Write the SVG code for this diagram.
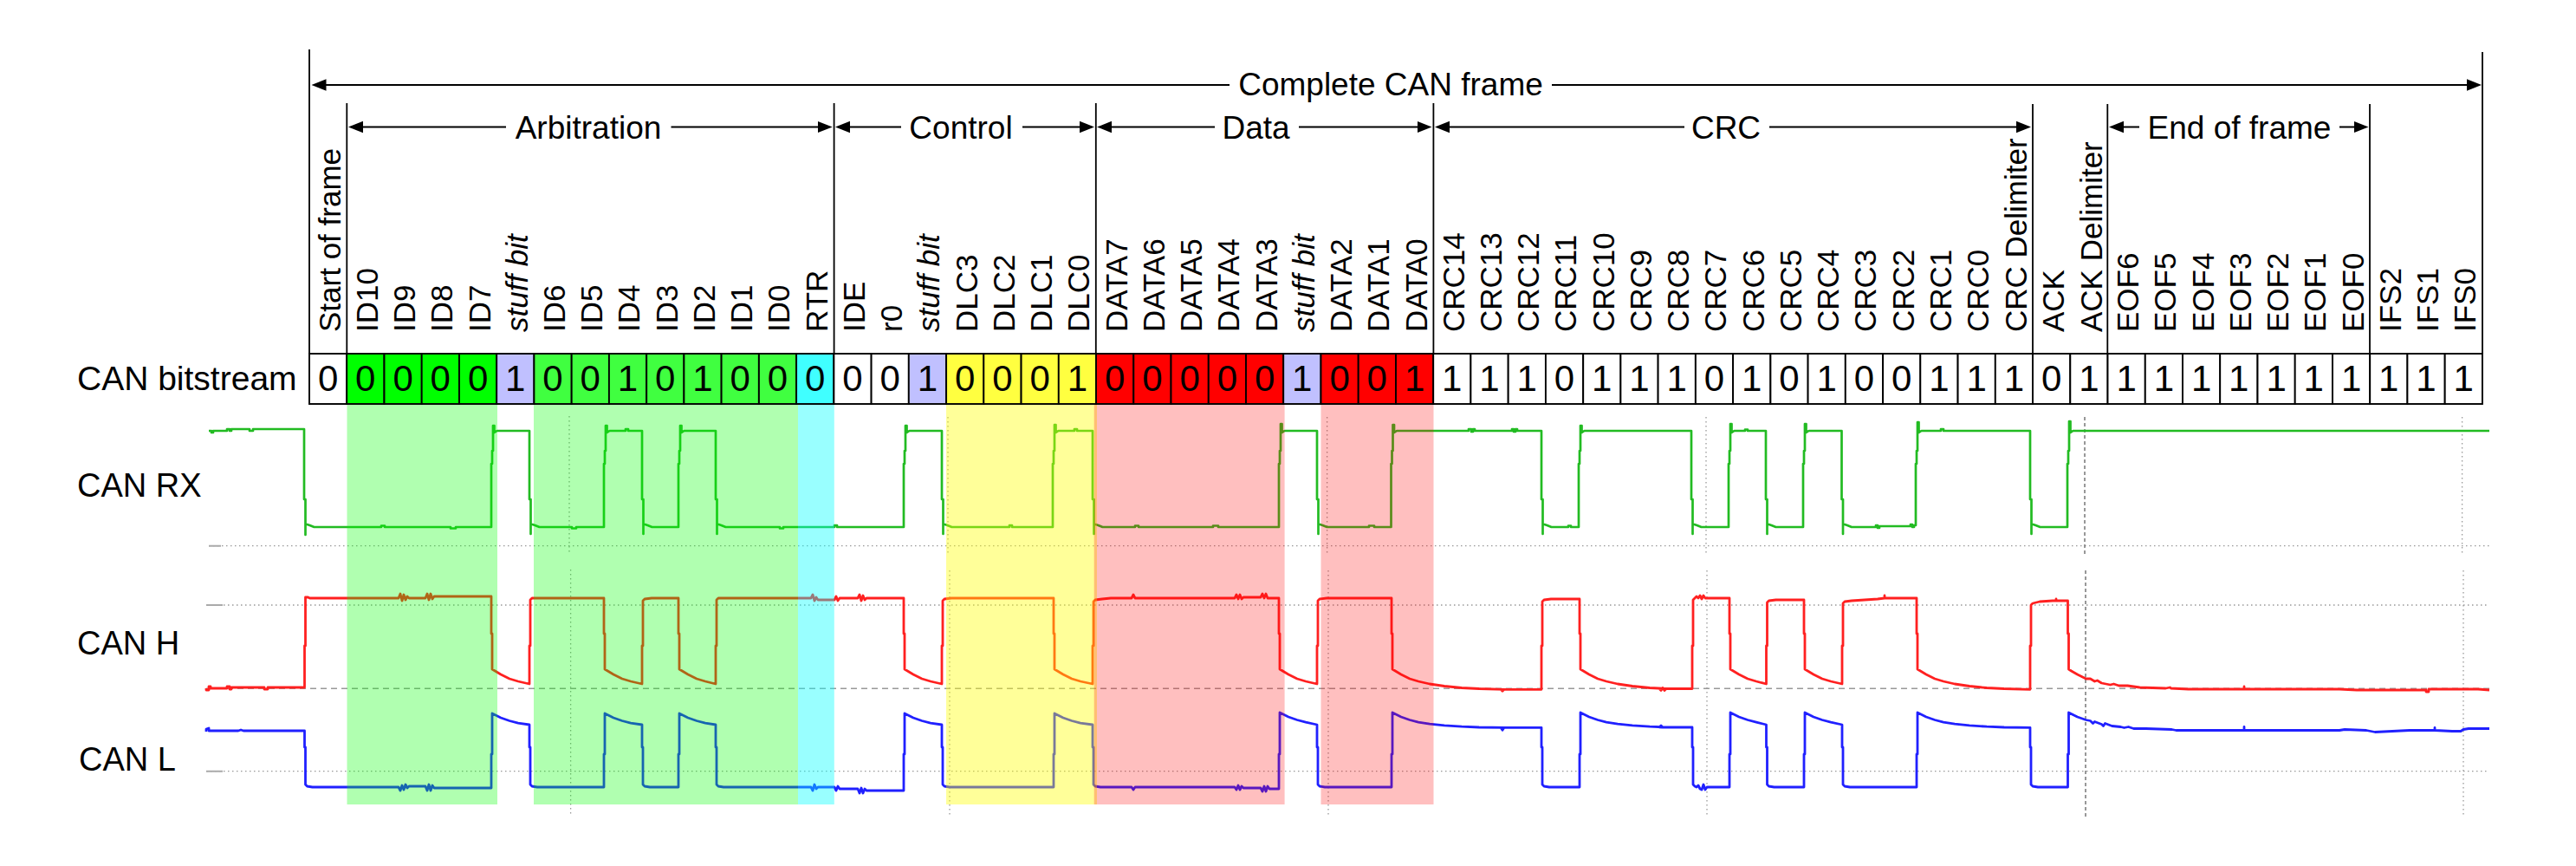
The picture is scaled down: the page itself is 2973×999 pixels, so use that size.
<svg xmlns="http://www.w3.org/2000/svg" width="2973" height="999" viewBox="0 0 2973 999">
<style>
text{font-family:"Liberation Sans",Arial,sans-serif;fill:#000}
.t{font-size:37px;text-anchor:middle}
.s{font-size:38px}
.d{font-size:42px;text-anchor:middle}
.v{font-size:35px}
.i{font-style:italic}
.c{stroke:#000;stroke-width:1.9}
.w{fill:#fff}.g1{fill:#0f0}.g2{fill:#40ff40}.sb{fill:#c0c0ff}.cy{fill:#40ffff}.ye{fill:#ffff40}.re{fill:#f00}
.a{stroke:#000;stroke-width:2;fill:none}
.f{stroke:#000;stroke-width:1.8;fill:none}
.gd{stroke:#999;stroke-width:1.3;stroke-dasharray:1.5 3.5;fill:none}
.gk{stroke:#777;stroke-width:1.5;stroke-dasharray:4 3;fill:none}
.gh{stroke:#999;stroke-width:1.5;stroke-dasharray:7 5;fill:none}
.tk{stroke:#aaa;stroke-width:2;fill:none}
.tr{fill:none;stroke-linejoin:round}
</style>
<defs>
<marker id="ah" markerUnits="userSpaceOnUse" markerWidth="18" markerHeight="15" refX="9" refY="7.5" orient="auto-start-reverse"><path d="M0 .8L17 7.5L0 14.2z" fill="#000"/></marker>
</defs>

<g id="grid">
<path class="gd" d="M241 629.7H2873M238 698H2873M238 889.7H2873"/>
<path class="gh" d="M238 794.3H2873"/>
<path class="tk" d="M241 629.7H255M238 698H257M238 889.7H257"/>
<path class="gd" d="M657 480V640M658.6 657V942M1094 481V640M1096 658V942M1531.6 481V640M1533 658V942M1969 481V640M1970 658V942M2841.6 481V640M2843 658V942"/>
<path class="gk" d="M2406 481V640M2407 658V942"/>
</g>

<g id="traces">
<path id="trace-rx" class="tr" stroke="#22bb22" stroke-width="2.7" d="M241 497h3v2h2v-2H262v-2h3v2h2v-2H288v2h4v-2H351V576h1.5V617V605h2l3 1l5 2H440v-1.5h4v1.5H520v1.5h6v-1.5H567V535h1V520h1V491h1.5V499l3-2H611V576h1.5V616V605h2l3 1l5 2H660v1.5h5v-1.5H697V535h1V520h1V491h1.5V499l3-2H722v-2h3v2H741V576h1.5V616V605h2l3 1l5 2H783V535h1V520h1V491h1.5V499l3-2H826V576h1.5V616V605h2l3 1l5 2H900v1.5h4v-1.5H963v-2h3v2H1043V535h1V520h1V491h1.5V499l3-2H1087V576h1.5V616V605h2l3 1l5 2H1165v-2h3v2H1215V535h1V520h1V490h1.5V499l3-2H1240v-2h3v2H1261V576h1.5V616V605h2l3 1l5 2H1310v-1.5h4v1.5H1400v-1.5h6v1.5H1476V535h1V520h1V489h1.5V499l3-2H1520V576h1.5V616V605h2l3 1l5 2H1580v-1.5h6v1.5H1605.5V535h1V520h1V490h1.5V499l3-2H1695v-2h3v3h2v-3h2v2H1745v-2h2v3h2v-3h2v2H1779V576h1.5V616V605h2l3 1l5 2H1810v-1.5h3v1.5H1822V535h1V520h1V491h1.5V499l3-2H1952V576h1.5V616V605h2l3 1l5 2H1995V535h1V520h1V489h1.5V499l3-2H2014v-1.5h3v1.5H2038V576h1.5V616V605h2l3 1l5 2H2081V535h1V520h1V489h1.5V499l3-2H2125.5V576h1.5V616V605h2l3 1l5 2H2165v-2h2v3h2v-2H2205v-2h2v3h2v-2H2211V535h1V520h1V487h1.5V499l3-2H2240v-2h3v2H2343V576h1.5V616V605h2l3 1l5 2H2386V535h1V520h1V486h1.5V499l3-2H2873"/>
<path id="trace-h" class="tr" stroke="#ff2020" stroke-width="2.8" d="M238 794v2h3v-4h2v2H262v-2h3v3h2v-2H305v2h4v-2H351.5V745h1V689h3l2 1H460l2-5l2 8l2-7l2 6l2-4l2 2H491l2-5l2 7l2-7l2 6l2-3H567V731h1V772l10 6l10 5l10 3L611 789V745h1V692l2-2H697V731h1V772l10 6l10 5l10 3L741 789V745h1V693l2-2l8-1H783V731h1V772l10 6l10 5l10 3L826 789V745h1V692l2-2H936l2-4l2 7l2-4l2 3H963l2-4l2 5l2-3h2H990l2-4l2 7l2-6l2 5l2-2H1043V731h1V772l10 6l10 5l10 3L1087 789V745h1V693l2-2l8-1H1216V731h1V772l10 6l10 5l10 3L1261 789V745h1V694l2-2l8-1l10-1H1306l2-4l2 4H1425l2-4l2 5l2-5l2 5l2-2H1455l2-4l2 5l2-5l2 5h2H1476V731h1V772l10 6l10 5l10 3L1520 789V745h1V693l2-2l8-1H1606V731h1V772l10 6l10 5l10 3l13 3l17 2.5l20 2l20 1l30 .8H1732l2 2l2-2H1779V745h1V694l2-2l8-1H1823V731h1V772l10 6l10 5l10 3l13 3l17 2.5l20 2l20 1H1915l2 2l2-3l2 3l2-2H1953V745h1V692l2-2l2-2l2 2l2-3l2 4l2-4l2 3H1996V731h1V772l10 6l10 5l10 3L2038.5 789V745h1V695l2-2l8-1H2082V731h1V772l10 6l10 5l10 3L2126 789V745h1V696l2-2l8-1l30-2l8-1v-3v3H2212V731h1V772l10 6l10 5l10 3l13 3l17 2.5l20 2l20 1l30 .8H2343V745h1V698l2-2l8-2l15-1h4v-2v2H2386.5V731h1V772l3 2l7 4l10 5l5 0l5 3l3-1l5 3l10 2l4-1l6 2l10 0l14 2l30 1l5-1l1 1l20 1H2590v-3v3H2700l20 1H2800v2h3v-3H2860l13 1"/>
<path id="trace-l" class="tr" stroke="#2020ff" stroke-width="2.8" d="M238 844v-3l3-1v3H275l3-1l3 1H351.5V862h1V905l2 2l6 1H460l2 4l2-6l2 5l2-6l2 4l2-2H491l2 5l2-7l2 7l2-6l2 3H567V870h1V823l10 5l10 3.5l10 2.6L611 836V862h1V905l2 2l6 1H697V870h1V823l10 5l10 3.5l10 2.6L741 836V862h1V905l2 2l6 1H783V870h1V823l10 5l10 3.5l10 2.6L826 836V862h1V905l2 2l6 1H936l2 4l2-7l2 5l2-2H963l2 4l2-5l2 3H990l2 5l2-6l2 6l2-5l2 2H1043V870h1V823l10 5l10 3.5l10 2.6L1087 836V862h1V905l2 2l6 1H1216V870h1V823l10 5l10 3.5l10 2.6L1261 836V862h1V905l2 2l6 1H1306l2 3l2-3H1425l2 3l2-5l2 5l2-4l2 2H1455l2 4l2-6l2 6l2-6l2 3H1476V870h1V822l10 5l10 3.5l10 2.6L1520 836V862h1V905l2 2l6 1H1606V870h1V822l10 5l10 3.5l10 2.6l13 2l17 1.8l20 1.3l20 .8l30 .3H1732l2 3l2-3H1779V862h1V905l2 2l6 1H1823V870h1V822l10 5l10 3.5l10 2.6l13 2l17 1.8l20 1.3l20 .8H1915l2-2l2 2h4H1953V862h1V905l2 2l2 1l2-2l2 4l2 1l2-6l2 6l2-3H1996V870h1V822l10 5l10 3.5l10 2.6L2038.5 836V862h1V905l2 2l6 1H2082V870h1V822l10 5l10 3.5l10 2.6L2126 836V862h1V905l2 2l6 1H2212V870h1V822l10 5l10 3.5l10 2.6l13 2l17 1.8l20 1.3l20 .8l30 .3H2343V862h1V905l2 2l6 1H2386.5V870h1V822l10 5l10 3.5l5 1l3 3l2-2l8 3l2 2l2-3l8 3l10 1l4 1l5-1l6 2l14 0l30 1l5 1H2590v-4v4H2700l6-1l25 1l10 2l40-2H2810v-3v3l20 1H2840l3-2l6-1H2873"/>
</g>

<g id="bands">
<rect x="400.5" y="466" width="173.5" height="462" fill="#0f0" opacity=".31"/>
<rect x="616" y="466" width="305" height="462" fill="#0f0" opacity=".31"/>
<rect x="921" y="466" width="41.8" height="462" fill="#0ff" opacity=".4"/>
<rect x="1092" y="466" width="174" height="462" fill="#ff0" opacity=".4"/>
<rect x="1262.7" y="466" width="219.9" height="462" fill="#f00" opacity=".25"/>
<rect x="1524.5" y="466" width="130" height="462" fill="#f00" opacity=".25"/>
</g>

<g id="connectors">
<path class="a" d="M367.5 98H1419" marker-start="url(#ah)"/>
<path class="a" d="M1791 98H2856" marker-end="url(#ah)"/>
<path class="a" d="M410 146.5H584" marker-start="url(#ah)"/>
<path class="a" d="M774.5 146.5H952.7" marker-end="url(#ah)"/>
<path class="a" d="M972 146.5H1040" marker-start="url(#ah)"/>
<path class="a" d="M1180 146.5H1255" marker-end="url(#ah)"/>
<path class="a" d="M1274 146.5H1402" marker-start="url(#ah)"/>
<path class="a" d="M1499 146.5H1644.5" marker-end="url(#ah)"/>
<path class="a" d="M1664 146.5H1944" marker-start="url(#ah)"/>
<path class="a" d="M2042 146.5H2336" marker-end="url(#ah)"/>
<path class="a" d="M2442 146.5H2469" marker-start="url(#ah)"/>
<path class="a" d="M2700 146.5H2725.5" marker-end="url(#ah)"/>
<path class="f" d="M357 57V408M400.3 119V408M962.6 119V408M1264.8 119V408M1654.4 119V408M2346 120V408M2432.3 120V408M2735 120V408M2865 60V408"/>
</g>

<g id="section-labels">
<text class="t" x="1605" y="110">Complete CAN frame</text>
<text class="t" x="679" y="160">Arbitration</text>
<text class="t" x="1109" y="160">Control</text>
<text class="t" x="1449.5" y="160">Data</text>
<text class="t" x="1992" y="160">CRC</text>
<text class="t" x="2584.5" y="160">End of frame</text>
</g>

<g id="row-labels">
<text class="s" style="font-size:39px" x="89" y="450">CAN bitstream</text>
<text class="s" x="89" y="573">CAN RX</text>
<text class="s" x="89" y="755">CAN H</text>
<text class="s" x="91" y="889">CAN L</text>
</g>

<g id="bit-sof"><rect class="c w" x="357" y="408" width="43.24" height="58"/><text class="d" x="378.6" y="451">0</text><text class="v" transform="translate(392.5 383) rotate(-90)">Start of frame</text></g>
<g id="bit-id10"><rect class="c g1" x="400.2" y="408" width="43.24" height="58"/><text class="d" x="421.8" y="451">0</text><text class="v" transform="translate(435.7 383) rotate(-90)">ID10</text></g>
<g id="bit-id9"><rect class="c g1" x="443.5" y="408" width="43.24" height="58"/><text class="d" x="465.1" y="451">0</text><text class="v" transform="translate(479 383) rotate(-90)">ID9</text></g>
<g id="bit-id8"><rect class="c g1" x="486.7" y="408" width="43.24" height="58"/><text class="d" x="508.3" y="451">0</text><text class="v" transform="translate(522.2 383) rotate(-90)">ID8</text></g>
<g id="bit-id7"><rect class="c g1" x="530" y="408" width="43.24" height="58"/><text class="d" x="551.6" y="451">0</text><text class="v" transform="translate(565.5 383) rotate(-90)">ID7</text></g>
<g id="bit-stuff1"><rect class="c sb" x="573.2" y="408" width="43.24" height="58"/><text class="d" x="594.8" y="451">1</text><text class="v i" transform="translate(608.7 383) rotate(-90)">stuff bit</text></g>
<g id="bit-id6"><rect class="c g2" x="616.4" y="408" width="43.24" height="58"/><text class="d" x="638" y="451">0</text><text class="v" transform="translate(651.9 383) rotate(-90)">ID6</text></g>
<g id="bit-id5"><rect class="c g2" x="659.7" y="408" width="43.24" height="58"/><text class="d" x="681.3" y="451">0</text><text class="v" transform="translate(695.2 383) rotate(-90)">ID5</text></g>
<g id="bit-id4"><rect class="c g2" x="702.9" y="408" width="43.24" height="58"/><text class="d" x="724.5" y="451">1</text><text class="v" transform="translate(738.4 383) rotate(-90)">ID4</text></g>
<g id="bit-id3"><rect class="c g2" x="746.2" y="408" width="43.24" height="58"/><text class="d" x="767.8" y="451">0</text><text class="v" transform="translate(781.7 383) rotate(-90)">ID3</text></g>
<g id="bit-id2"><rect class="c g2" x="789.4" y="408" width="43.24" height="58"/><text class="d" x="811" y="451">1</text><text class="v" transform="translate(824.9 383) rotate(-90)">ID2</text></g>
<g id="bit-id1"><rect class="c g2" x="832.6" y="408" width="43.24" height="58"/><text class="d" x="854.2" y="451">0</text><text class="v" transform="translate(868.1 383) rotate(-90)">ID1</text></g>
<g id="bit-id0"><rect class="c g2" x="875.9" y="408" width="43.24" height="58"/><text class="d" x="897.5" y="451">0</text><text class="v" transform="translate(911.4 383) rotate(-90)">ID0</text></g>
<g id="bit-rtr"><rect class="c cy" x="919.1" y="408" width="43.24" height="58"/><text class="d" x="940.7" y="451">0</text><text class="v" transform="translate(954.6 383) rotate(-90)">RTR</text></g>
<g id="bit-ide"><rect class="c w" x="962.4" y="408" width="43.24" height="58"/><text class="d" x="984" y="451">0</text><text class="v" transform="translate(997.9 383) rotate(-90)">IDE</text></g>
<g id="bit-r0"><rect class="c w" x="1005.6" y="408" width="43.24" height="58"/><text class="d" x="1027.2" y="451">0</text><text class="v" transform="translate(1041.1 383) rotate(-90)">r0</text></g>
<g id="bit-stuff2"><rect class="c sb" x="1048.8" y="408" width="43.24" height="58"/><text class="d" x="1070.4" y="451">1</text><text class="v i" transform="translate(1084.3 383) rotate(-90)">stuff bit</text></g>
<g id="bit-dlc3"><rect class="c ye" x="1092.1" y="408" width="43.24" height="58"/><text class="d" x="1113.7" y="451">0</text><text class="v" transform="translate(1127.6 383) rotate(-90)">DLC3</text></g>
<g id="bit-dlc2"><rect class="c ye" x="1135.3" y="408" width="43.24" height="58"/><text class="d" x="1156.9" y="451">0</text><text class="v" transform="translate(1170.8 383) rotate(-90)">DLC2</text></g>
<g id="bit-dlc1"><rect class="c ye" x="1178.6" y="408" width="43.24" height="58"/><text class="d" x="1200.2" y="451">0</text><text class="v" transform="translate(1214.1 383) rotate(-90)">DLC1</text></g>
<g id="bit-dlc0"><rect class="c ye" x="1221.8" y="408" width="43.24" height="58"/><text class="d" x="1243.4" y="451">1</text><text class="v" transform="translate(1257.3 383) rotate(-90)">DLC0</text></g>
<g id="bit-data7"><rect class="c re" x="1265" y="408" width="43.24" height="58"/><text class="d" x="1286.6" y="451">0</text><text class="v" transform="translate(1300.5 383) rotate(-90)">DATA7</text></g>
<g id="bit-data6"><rect class="c re" x="1308.3" y="408" width="43.24" height="58"/><text class="d" x="1329.9" y="451">0</text><text class="v" transform="translate(1343.8 383) rotate(-90)">DATA6</text></g>
<g id="bit-data5"><rect class="c re" x="1351.5" y="408" width="43.24" height="58"/><text class="d" x="1373.1" y="451">0</text><text class="v" transform="translate(1387 383) rotate(-90)">DATA5</text></g>
<g id="bit-data4"><rect class="c re" x="1394.8" y="408" width="43.24" height="58"/><text class="d" x="1416.4" y="451">0</text><text class="v" transform="translate(1430.3 383) rotate(-90)">DATA4</text></g>
<g id="bit-data3"><rect class="c re" x="1438" y="408" width="43.24" height="58"/><text class="d" x="1459.6" y="451">0</text><text class="v" transform="translate(1473.5 383) rotate(-90)">DATA3</text></g>
<g id="bit-stuff3"><rect class="c sb" x="1481.2" y="408" width="43.24" height="58"/><text class="d" x="1502.8" y="451">1</text><text class="v i" transform="translate(1516.7 383) rotate(-90)">stuff bit</text></g>
<g id="bit-data2"><rect class="c re" x="1524.5" y="408" width="43.24" height="58"/><text class="d" x="1546.1" y="451">0</text><text class="v" transform="translate(1560 383) rotate(-90)">DATA2</text></g>
<g id="bit-data1"><rect class="c re" x="1567.7" y="408" width="43.24" height="58"/><text class="d" x="1589.3" y="451">0</text><text class="v" transform="translate(1603.2 383) rotate(-90)">DATA1</text></g>
<g id="bit-data0"><rect class="c re" x="1611" y="408" width="43.24" height="58"/><text class="d" x="1632.6" y="451">1</text><text class="v" transform="translate(1646.5 383) rotate(-90)">DATA0</text></g>
<g id="bit-crc14"><rect class="c w" x="1654.2" y="408" width="43.24" height="58"/><text class="d" x="1675.8" y="451">1</text><text class="v" transform="translate(1689.7 383) rotate(-90)">CRC14</text></g>
<g id="bit-crc13"><rect class="c w" x="1697.4" y="408" width="43.24" height="58"/><text class="d" x="1719" y="451">1</text><text class="v" transform="translate(1732.9 383) rotate(-90)">CRC13</text></g>
<g id="bit-crc12"><rect class="c w" x="1740.7" y="408" width="43.24" height="58"/><text class="d" x="1762.3" y="451">1</text><text class="v" transform="translate(1776.2 383) rotate(-90)">CRC12</text></g>
<g id="bit-crc11"><rect class="c w" x="1783.9" y="408" width="43.24" height="58"/><text class="d" x="1805.5" y="451">0</text><text class="v" transform="translate(1819.4 383) rotate(-90)">CRC11</text></g>
<g id="bit-crc10"><rect class="c w" x="1827.2" y="408" width="43.24" height="58"/><text class="d" x="1848.8" y="451">1</text><text class="v" transform="translate(1862.7 383) rotate(-90)">CRC10</text></g>
<g id="bit-crc9"><rect class="c w" x="1870.4" y="408" width="43.24" height="58"/><text class="d" x="1892" y="451">1</text><text class="v" transform="translate(1905.9 383) rotate(-90)">CRC9</text></g>
<g id="bit-crc8"><rect class="c w" x="1913.6" y="408" width="43.24" height="58"/><text class="d" x="1935.2" y="451">1</text><text class="v" transform="translate(1949.1 383) rotate(-90)">CRC8</text></g>
<g id="bit-crc7"><rect class="c w" x="1956.9" y="408" width="43.24" height="58"/><text class="d" x="1978.5" y="451">0</text><text class="v" transform="translate(1992.4 383) rotate(-90)">CRC7</text></g>
<g id="bit-crc6"><rect class="c w" x="2000.1" y="408" width="43.24" height="58"/><text class="d" x="2021.7" y="451">1</text><text class="v" transform="translate(2035.6 383) rotate(-90)">CRC6</text></g>
<g id="bit-crc5"><rect class="c w" x="2043.4" y="408" width="43.24" height="58"/><text class="d" x="2065" y="451">0</text><text class="v" transform="translate(2078.9 383) rotate(-90)">CRC5</text></g>
<g id="bit-crc4"><rect class="c w" x="2086.6" y="408" width="43.24" height="58"/><text class="d" x="2108.2" y="451">1</text><text class="v" transform="translate(2122.1 383) rotate(-90)">CRC4</text></g>
<g id="bit-crc3"><rect class="c w" x="2129.8" y="408" width="43.24" height="58"/><text class="d" x="2151.4" y="451">0</text><text class="v" transform="translate(2165.3 383) rotate(-90)">CRC3</text></g>
<g id="bit-crc2"><rect class="c w" x="2173.1" y="408" width="43.24" height="58"/><text class="d" x="2194.7" y="451">0</text><text class="v" transform="translate(2208.6 383) rotate(-90)">CRC2</text></g>
<g id="bit-crc1"><rect class="c w" x="2216.3" y="408" width="43.24" height="58"/><text class="d" x="2237.9" y="451">1</text><text class="v" transform="translate(2251.8 383) rotate(-90)">CRC1</text></g>
<g id="bit-crc0"><rect class="c w" x="2259.6" y="408" width="43.24" height="58"/><text class="d" x="2281.2" y="451">1</text><text class="v" transform="translate(2295.1 383) rotate(-90)">CRC0</text></g>
<g id="bit-crc-del"><rect class="c w" x="2302.8" y="408" width="43.24" height="58"/><text class="d" x="2324.4" y="451">1</text><text class="v" transform="translate(2338.8 383) rotate(-90)">CRC Delimiter</text></g>
<g id="bit-ack"><rect class="c w" x="2346" y="408" width="43.24" height="58"/><text class="d" x="2367.6" y="451">0</text><text class="v" transform="translate(2381.5 383) rotate(-90)">ACK</text></g>
<g id="bit-ack-del"><rect class="c w" x="2389.3" y="408" width="43.24" height="58"/><text class="d" x="2410.9" y="451">1</text><text class="v" transform="translate(2425.5 383) rotate(-90)">ACK Delimiter</text></g>
<g id="bit-eof6"><rect class="c w" x="2432.5" y="408" width="43.24" height="58"/><text class="d" x="2454.1" y="451">1</text><text class="v" transform="translate(2468 383) rotate(-90)">EOF6</text></g>
<g id="bit-eof5"><rect class="c w" x="2475.8" y="408" width="43.24" height="58"/><text class="d" x="2497.4" y="451">1</text><text class="v" transform="translate(2511.3 383) rotate(-90)">EOF5</text></g>
<g id="bit-eof4"><rect class="c w" x="2519" y="408" width="43.24" height="58"/><text class="d" x="2540.6" y="451">1</text><text class="v" transform="translate(2554.5 383) rotate(-90)">EOF4</text></g>
<g id="bit-eof3"><rect class="c w" x="2562.2" y="408" width="43.24" height="58"/><text class="d" x="2583.8" y="451">1</text><text class="v" transform="translate(2597.7 383) rotate(-90)">EOF3</text></g>
<g id="bit-eof2"><rect class="c w" x="2605.5" y="408" width="43.24" height="58"/><text class="d" x="2627.1" y="451">1</text><text class="v" transform="translate(2641 383) rotate(-90)">EOF2</text></g>
<g id="bit-eof1"><rect class="c w" x="2648.7" y="408" width="43.24" height="58"/><text class="d" x="2670.3" y="451">1</text><text class="v" transform="translate(2684.2 383) rotate(-90)">EOF1</text></g>
<g id="bit-eof0"><rect class="c w" x="2692" y="408" width="43.24" height="58"/><text class="d" x="2713.6" y="451">1</text><text class="v" transform="translate(2727.5 383) rotate(-90)">EOF0</text></g>
<g id="bit-ifs2"><rect class="c w" x="2735.2" y="408" width="43.24" height="58"/><text class="d" x="2756.8" y="451">1</text><text class="v" transform="translate(2770.7 383) rotate(-90)">IFS2</text></g>
<g id="bit-ifs1"><rect class="c w" x="2778.4" y="408" width="43.24" height="58"/><text class="d" x="2800" y="451">1</text><text class="v" transform="translate(2813.9 383) rotate(-90)">IFS1</text></g>
<g id="bit-ifs0"><rect class="c w" x="2821.7" y="408" width="43.24" height="58"/><text class="d" x="2843.3" y="451">1</text><text class="v" transform="translate(2857.2 383) rotate(-90)">IFS0</text></g>
</svg>
